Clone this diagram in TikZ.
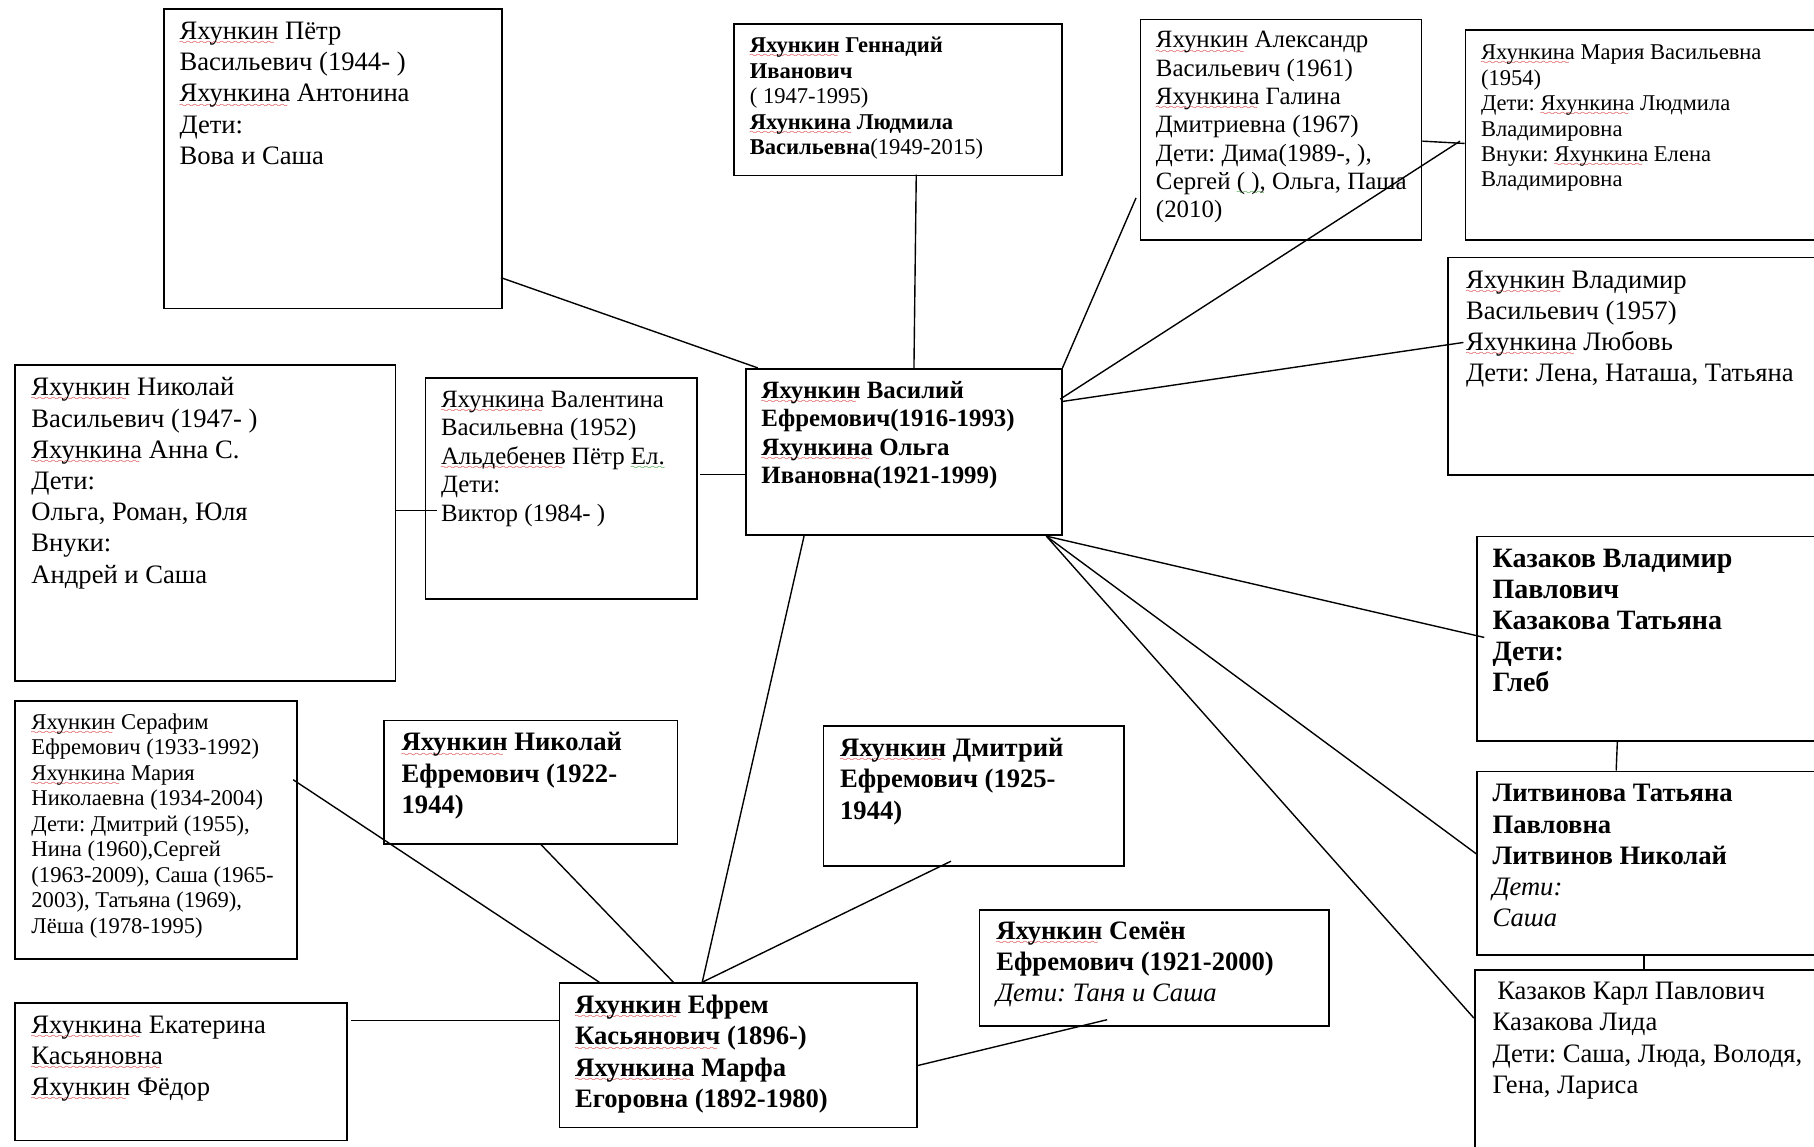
\documentclass[tikz,border=0pt]{standalone}
\usepackage{fontspec}
\setmainfont{Liberation Serif}
\usetikzlibrary{calc}
\frenchspacing
\font\wvfont=lasy6 at 7pt
\newcommand\wvline[2]{\setbox0\hbox{#2}\rlap{\lower4.5pt\hbox to\wd0{\color{#1}\leaders\hbox{\wvfont\char58}\hfill}}\box0\relax}
\newcommand\rw[1]{\wvline{red!80!black}{#1}}
\newcommand\gw[1]{\wvline{green!50!black}{#1}}
\tikzset{
  box/.style={draw, line width=1.4pt, rectangle, inner sep=0pt, anchor=north west},
  txt/.style={anchor=north west, inner sep=0pt, align=left},
  big/.style={font=\fontsize{23}{27}\selectfont\frenchspacing},
  bigk/.style={font=\fontsize{24.2}{27}\selectfont\frenchspacing},
  mid/.style={font=\fontsize{21.5}{24.5}\selectfont\frenchspacing},
  sml/.style={font=\fontsize{19.5}{22}\selectfont\frenchspacing},
  link/.style={line width=1.2pt}
}
\begin{document}
\begin{tikzpicture}[x=1pt,y=-1pt]
\useasboundingbox (0,0) rectangle (1568,991);
\clip (0,0) rectangle (1568,991);
\fill[white] (0,0) rectangle (1568,991);

% boxes
\node[box, minimum width=292pt, minimum height=259pt] (P) at (141,7) {};
\node[box, minimum width=283pt, minimum height=131pt] (G) at (634,20) {};
\node[box, minimum width=243pt, minimum height=191pt] (A) at (985,16) {};
\node[box, minimum width=309pt, minimum height=182pt] (M) at (1266,25) {};
\node[box, minimum width=324pt, minimum height=188pt] (Vl) at (1251,222) {};
\node[box, minimum width=273pt, minimum height=144pt] (V) at (644,318) {};
\node[box, minimum width=329pt, minimum height=273pt] (N) at (12,315) {};
\node[box, minimum width=235pt, minimum height=191pt] (Val) at (367,326) {};
\node[box, minimum width=244pt, minimum height=223pt] (S) at (12,605) {};
\node[box, minimum width=254pt, minimum height=107pt] (NE) at (331,622) {};
\node[box, minimum width=260pt, minimum height=121pt] (D) at (711,627) {};
\node[box, minimum width=309pt, minimum height=125pt] (E) at (483,849) {};
\node[box, minimum width=302pt, minimum height=100pt] (Sem) at (846,786) {};
\node[box, minimum width=287pt, minimum height=119pt] (Ek) at (12,866) {};
\node[box, minimum width=299pt, minimum height=177pt] (K) at (1276,463) {};
\node[box, minimum width=299pt, minimum height=159pt] (L) at (1276,666) {};
\node[box, minimum width=301pt, minimum height=170pt] (KK) at (1274,838) {};

% texts (top = first baseline - 0.7 baselineskip)
\node[txt,big] (Pt) at (155,15) {\strut\rw{Яхункин} Пётр\\Васильевич (1944- )\\\rw{Яхункина} Антонина\\Дети:\\Вова и Саша};
\node[txt,sml] (Gt) at (648,30) {\strut\textbf{\rw{Яхункин} Геннадий}\\\textbf{Иванович}\\( 1947-1995)\\\textbf{\rw{Яхункина} Людмила}\\\textbf{Васильевна}(1949-2015)};
\node[txt,mid] (At) at (999,24) {\strut\rw{Яхункин} Александр\\Васильевич (1961)\\\rw{Яхункина} Галина\\Дмитриевна (1967)\\Дети: Дима(1989-, ),\\Сергей \gw{( ),} Ольга, Паша\\(2010)};
\node[txt,sml] (Mt) at (1280,36) {\strut\rw{Яхункина} Мария Васильевна\\(1954)\\Дети: \rw{Яхункина} Людмила\\Владимировна\\Внуки: \rw{Яхункина} Елена\\Владимировна};
\node[txt,big] (Vlt) at (1267,230) {\strut\rw{Яхункин} Владимир\\Васильевич (1957)\\\rw{Яхункина} Любовь\\Дети: Лена, Наташа, Татьяна};
\node[txt,mid] (Vt) at (658,327) {\strut\textbf{\rw{Яхункин} Василий}\\\textbf{Ефремович(1916-1993)}\\\textbf{\rw{Яхункина} Ольга}\\\textbf{Ивановна(1921-1999)}};
\node[txt,big] (Nt) at (27,323) {\strut\rw{Яхункин} Николай\\Васильевич (1947- )\\\rw{Яхункина} Анна С.\\Дети:\\Ольга, Роман, Юля\\Внуки:\\Андрей и Саша};
\node[txt,mid] (Valt) at (381,335) {\strut\rw{Яхункина} Валентина\\Васильевна (1952)\\\rw{Альдебенев} Пётр \gw{Ел.}\\Дети:\\Виктор (1984- )};
\node[txt,sml] (St) at (27,615) {\strut\rw{Яхункин} Серафим\\Ефремович (1933-1992)\\\rw{Яхункина} Мария\\Николаевна (1934-2004)\\Дети: Дмитрий (1955),\\Нина (1960),Сергей\\(1963-2009), Саша (1965-\\2003), Татьяна (1969),\\Лёша (1978-1995)};
\node[txt,big] (NEt) at (347,630) {\strut\textbf{\rw{Яхункин} Николай}\\\textbf{Ефремович (1922-}\\\textbf{1944)}};
\node[txt,big] (Dt) at (726,635) {\strut\textbf{\rw{Яхункин} Дмитрий}\\\textbf{Ефремович (1925-}\\\textbf{1944)}};
\node[txt,big] (Et) at (497,857) {\strut\textbf{\rw{Яхункин} Ефрем}\\\textbf{\rw{Касьянович} (1896-)}\\\textbf{\rw{Яхункина} Марфа}\\\textbf{Егоровна (1892-1980)}};
\node[txt,big] (Semt) at (861,793) {\strut\textbf{\rw{Яхункин} Семён}\\\textbf{Ефремович (1921-2000)}\\\textit{Дети: Таня и Саша}};
\node[txt,big] (Ekt) at (27,874) {\strut\rw{Яхункина} Екатерина\\\rw{Касьяновна}\\\rw{Яхункин} Фёдор};
\node[txt,bigk] (Kt) at (1290,471) {\strut\textbf{Казаков Владимир}\\\textbf{Павлович}\\\textbf{Казакова Татьяна}\\\textbf{Дети:}\\\textbf{Глеб}};
\node[txt,big] (Lt) at (1290,674) {\strut\textbf{Литвинова Татьяна}\\\textbf{Павловна}\\\textbf{Литвинов Николай}\\\textit{Дети:}\\\textit{Саша}};
\node[txt,big] (KKt) at (1290,845) {\strut\hspace{4pt}Казаков Карл Павлович\\Казакова Лида\\Дети: Саша, Люда, Володя,\\Гена, Лариса};

% connectors
\draw[link] ($(P.north west)+(292,233)$) -- ($(V.north west)+(11,0)$);
\draw[link] ($(G.north west)+(158,131)$) -- ($(V.north west)+(146,0)$);
\draw[link] ($(A.north west)+(-3,155)$) -- (V.north east);
\draw[link] ($(M.north west)+(-4,97)$) -- ($(V.north east)+(-2,27)$);
\draw[link] ($(A.north east)+(0,106)$) -- ($(M.north west)+(0,99)$);
\draw[link] ($(Vl.north west)+(14,74)$) -- ($(V.north east)+(0,29)$);
\draw[link] ($(N.north east)+(0,126)$) -- ($(Val.north west)+(11,115)$);
\draw[link] ($(Val.north east)+(2,84)$) -- ($(V.north west)+(0,92)$);
\draw[link] ($(V.south west)+(51,0)$) -- ($(E.north west)+(124,0)$);
\draw[link] ($(S.north east)+(-4,69)$) -- ($(E.north west)+(35,0)$);
\draw[link] ($(NE.south west)+(136,-1)$) -- ($(E.north west)+(99,0)$);
\draw[link] ($(D.south west)+(111,-5)$) -- ($(E.north west)+(124,0)$);
\draw[link] ($(Ek.north east)+(3,16)$) -- ($(E.north west)+(0,33)$);
\draw[link] ($(E.north east)+(0,72)$) -- ($(Sem.south west)+(111,-6)$);
\draw[link] ($(V.south east)+(-14,0)$) -- ($(K.north west)+(7,88)$);
\draw[link] ($(V.south east)+(-14,0)$) -- ($(L.north west)+(0,72)$);
\draw[link] ($(V.south east)+(-14,0)$) -- ($(KK.north west)+(0,42)$);
\draw[link] ($(K.south west)+(122,0)$) -- ($(L.north west)+(121,0)$);
\draw[link] ($(L.south west)+(145,0)$) -- ($(KK.north west)+(147,0)$);
\end{tikzpicture}
\end{document}
